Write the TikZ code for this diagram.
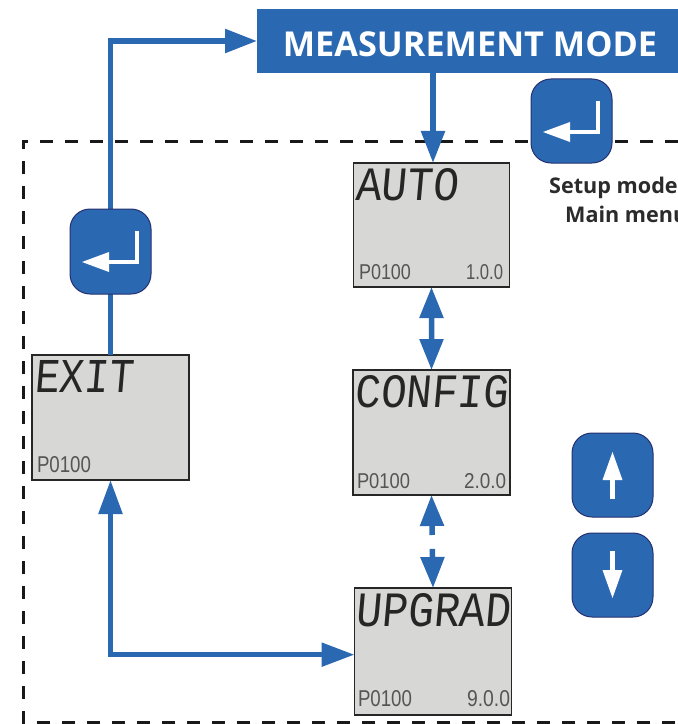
\documentclass[tikz,border=0pt]{standalone}
\usepackage{graphicx}
\usepackage{fontspec}
\setmainfont{Open Sans}
\newfontfamily\lcdmain{Liberation Mono}[FakeSlant=0.1]
\newfontfamily\lcdsmall{Liberation Sans}
\usetikzlibrary{arrows.meta,calc}
\definecolor{keyblue}{HTML}{2A69B2}
\definecolor{keyedge}{HTML}{24306F}
\definecolor{lcdgrey}{HTML}{D7D7D6}
\definecolor{lcdink}{HTML}{262626}
\definecolor{lcdsoft}{HTML}{555555}
\definecolor{labelink}{HTML}{2B2B2B}
\tikzset{
  x=1bp,y=-1bp,
  flowline/.style={draw=keyblue,line width=5.5bp},
  headed/.style={-{Triangle[length=32bp,width=23bp,fill=keyblue]}},
  twoheaded/.style={{Triangle[length=31bp,width=23bp,fill=keyblue]}-{Triangle[length=31bp,width=23bp,fill=keyblue]}},
  lcdbox/.style={draw=black!85,line width=1.2bp,fill=lcdgrey,anchor=north west,inner sep=0pt,outer sep=0pt},
  keybox/.style={draw=keyedge,line width=1bp,fill=keyblue,rounded corners=20bp,anchor=north west,inner sep=0pt,outer sep=0pt,minimum width=81bp,minimum height=84bp},
  lcdtext/.style={anchor=north west,inner sep=0pt,outer sep=0pt,text=lcdink},
  lcdsub/.style={anchor=north west,inner sep=0pt,outer sep=0pt,text=lcdsoft},
  glyphline/.style={draw=white,line width=4.5bp},
  glyphhead/.style={fill=white,draw=none},
  setuplabel/.style={anchor=north west,inner sep=0pt,text=labelink,font=\bfseries\fontsize{21.6bp}{29bp}\selectfont,align=left},
}
\newcommand{\bigtxt}[3]{\resizebox{#1bp}{#2bp}{\lcdmain #3}}
\newcommand{\smalltxt}[3]{\resizebox{#1bp}{#2bp}{\lcdsmall #3}}
\newcommand{\enterglyph}[2]{%
  \draw[glyphline,miter limit=2] (#1+67,#2+22) -- (#1+67,#2+53) -- (#1+36,#2+53);
  \fill[glyphhead] (#1+12,#2+53) -- (#1+39,#2+43) -- (#1+39,#2+63) -- cycle;}
\begin{document}
\begin{tikzpicture}
\useasboundingbox (0,0) rectangle (678,724);
% dashed region
\draw[line width=3bp,black!90,dash pattern=on 13bp off 12bp] (678,141) -- (23,141) -- (23,722) -- (678,722);

% boxes
\node[anchor=north west,fill=keyblue,inner sep=0pt,outer sep=0pt,minimum width=421bp,minimum height=64bp] (mode) at (257,9) {};
\node[lcdbox,minimum width=156bp,minimum height=124bp] (auto) at (353.5,163) {};
\node[lcdbox,minimum width=157bp,minimum height=125bp] (config) at (353,370) {};
\node[lcdbox,minimum width=157bp,minimum height=127bp] (upgrad) at (354.5,588) {};
\node[lcdbox,minimum width=157bp,minimum height=125bp] (exit) at (32,355) {};

\coordinate (corner top) at (exit.north |- mode.west);
\coordinate (auto entry) at ($(auto.north)+(1.5,0)$);
\coordinate (upgrad entry) at ($(upgrad.north west)!0.525!(upgrad.south west)$);
\coordinate (corner low) at (exit.south |- upgrad entry);
\coordinate (gap a) at ($(config.south)!0.43!(upgrad.north)$);
\coordinate (gap b) at ($(config.south)!0.58!(upgrad.north)$);

% connectors
\draw[flowline,headed] (exit.north) -- (corner top) -- (mode.west);
\draw[flowline,headed] (mode.south -| auto entry) -- (auto entry);
\draw[flowline,twoheaded] (auto.south) -- (config.north);
\draw[flowline,{Triangle[length=31bp,width=23bp,fill=keyblue]}-] (config.south) -- (gap a);
\draw[flowline,-{Triangle[length=31bp,width=23bp,fill=keyblue]}] (gap b) -- (upgrad.north);
\draw[flowline,{Triangle[length=34bp,width=23bp,fill=keyblue]}-{Triangle[length=33bp,width=23bp,fill=keyblue]}] (exit.south) -- (corner low) -- (upgrad entry);

% keys
\node[keybox,minimum height=85bp] (enter left) at (70,209) {};
\enterglyph{70}{209}
\node[keybox] (enter right) at (531,79) {};
\enterglyph{531}{79}
\node[keybox] (key up) at (572,433) {};
\draw[glyphline,line width=5bp] (612.5,499) -- (612.5,476);
\fill[glyphhead] (612.5,452) -- (622.5,480) -- (602.5,480) -- cycle;
\node[keybox] (key down) at (572,533) {};
\draw[glyphline,line width=5bp] (612.5,551) -- (612.5,574);
\fill[glyphhead] (612.5,598) -- (622.5,570) -- (602.5,570) -- cycle;

% text
\node[text=white,inner sep=0pt,anchor=center,font=\bfseries\fontsize{34.3bp}{34.3bp}\selectfont] (mode text) at (470,44) {MEASUREMENT MODE};
\node[setuplabel] (setup text) at (549,177) {Setup mode\\\hspace*{16bp}Main menu};

\node[lcdtext] (auto word) at (355,168) {\bigtxt{103}{32}{AUTO}};
\node[lcdsub] (auto code) at (359,264) {\smalltxt{52}{15}{P0100}};
\node[lcdsub] (auto num) at (466,264) {\smalltxt{37}{15}{1.0.0}};

\node[lcdtext] (config word) at (354.5,375) {\bigtxt{153}{32}{CONFIG}};
\node[lcdsub] (config code) at (357,473) {\smalltxt{53}{15}{P0100}};
\node[lcdsub] (config num) at (464,473) {\smalltxt{42}{15}{2.0.0}};

\node[lcdtext] (upgrad word) at (355.5,593) {\bigtxt{155}{33}{UPGRAD}};
\node[lcdsub] (upgrad code) at (358,690) {\smalltxt{54}{16}{P0100}};
\node[lcdsub] (upgrad num) at (467,690) {\smalltxt{43}{16}{9.0.0}};

\node[lcdtext] (exit word) at (34,360) {\bigtxt{99}{32}{EXIT}};
\node[lcdsub] (exit code) at (37,456) {\smalltxt{54}{16}{P0100}};
\end{tikzpicture}
\end{document}
